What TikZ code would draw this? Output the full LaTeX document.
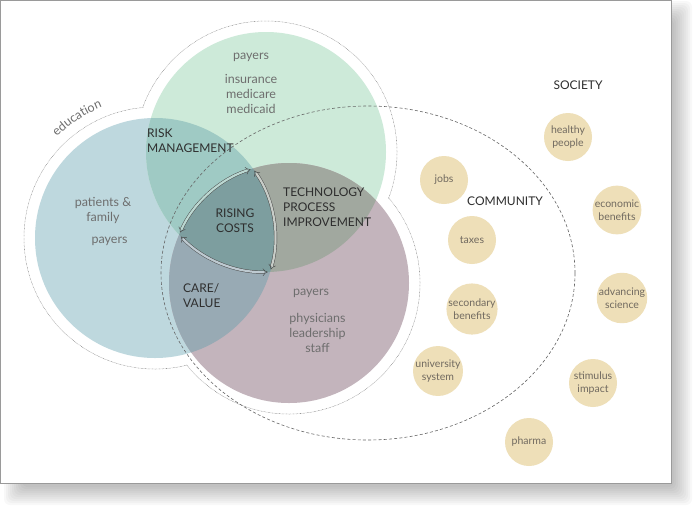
\documentclass[tikz,border=0pt]{standalone}
\usepackage{fontspec}
\setmainfont{Lato}
\usetikzlibrary{arrows.meta,decorations.text}

\definecolor{cardline}{HTML}{9A9A9A}
\definecolor{cblue}{HTML}{BED8DE}
\definecolor{cgreen}{HTML}{CDEAD9}
\definecolor{cmauve}{HTML}{C3B4BC}
\definecolor{cbg}{HTML}{9FCAC4}
\definecolor{cgm}{HTML}{A1A89F}
\definecolor{cbm}{HTML}{98AAB4}
\definecolor{cbgm}{HTML}{7D9E9F}
\definecolor{ctan}{HTML}{EEDFB8}
\definecolor{txtlight}{HTML}{6E6E6E}
\definecolor{txtdark}{HTML}{2E2E2E}
\definecolor{txttan}{HTML}{716A60}
\definecolor{innerA}{HTML}{BBD8D2}
\definecolor{innerB}{HTML}{C8CDC8}
\definecolor{innerC}{HTML}{BECAD1}

\begin{document}
\begin{tikzpicture}[x=1pt,y=1pt,
  bigtext/.style={text=txtlight, font=\fontsize{12.5}{15}\selectfont, align=center, inner sep=0pt},
  captext/.style={text=txtdark, font=\fontsize{12}{15}\selectfont, align=left, inner sep=0pt},
  bubble/.style={circle, fill=ctan, minimum size=48pt, inner sep=0pt, text=txttan,
    font=\fontsize{10.5}{12.5}\selectfont, align=center},
  halo/.style={draw=black!50, line width=0.5pt, dash pattern=on 0.6pt off 0.8pt},
  ring/.style={draw=black!60, line width=0.6pt, dash pattern=on 3pt off 2.2pt},
  cyc/.style={draw=black!72, line width=0.45pt, double distance=2.2pt,
    {Implies}-{Implies}, shorten <=2.5pt, shorten >=2.5pt}
]
\useasboundingbox (0,0) rectangle (694,-507);

% soft drop shadow behind the card
\foreach \i in {0,...,9}
  \fill[black, opacity=0.028, rounded corners=6pt]
    ({4+2*\i},{-(1+2*\i)}) rectangle ({692-2*\i},{-(505-2*\i)});

% the card
\fill[white] (0,0) rectangle (671,-483);
\draw[cardline, line width=1pt] (0.5,-0.5) rectangle (671,-483);

% circle centres
\coordinate (cB) at (155,-238);
\coordinate (cG) at (266,-152);
\coordinate (cM) at (289,-283);
\coordinate (cC) at (368,-273);

% dotted halo around the union of the three circles
\draw[halo] (cB) circle[radius=131];
\draw[halo] (cG) circle[radius=131];
\draw[halo] (cM) circle[radius=131];
\fill[white] (cB) circle[radius=130.4];
\fill[white] (cG) circle[radius=130.4];
\fill[white] (cM) circle[radius=130.4];

% the three circles and their overlaps
\fill[cblue] (cB) circle[radius=120];
\fill[cgreen] (cG) circle[radius=120];
\fill[cmauve] (cM) circle[radius=120];
\begin{scope}
  \clip (cB) circle[radius=120];
  \fill[cbg] (cG) circle[radius=120];
\end{scope}
\begin{scope}
  \clip (cG) circle[radius=120];
  \fill[cgm] (cM) circle[radius=120];
\end{scope}
\begin{scope}
  \clip (cB) circle[radius=120];
  \fill[cbm] (cM) circle[radius=120];
\end{scope}
\begin{scope}
  \clip (cB) circle[radius=120];
  \clip (cG) circle[radius=120];
  \fill[cbgm] (cM) circle[radius=120];
\end{scope}

% community boundary
\draw[ring] (cC) ellipse[x radius=207, y radius=167];

% cycle of double arrows round the central region
\draw[cyc, double=innerA] ([shift={(107.5:120)}]cM) arc[start angle=107.5, end angle=156.3, radius=120];
\draw[cyc, double=innerB] ([shift={(35.3:120)}]cB) arc[start angle=35.3, end angle=-16.4, radius=120];
\draw[cyc, double=innerC] ([shift={(223.6:120)}]cG) arc[start angle=223.6, end angle=272.0, radius=120];

% "education" set along the halo
\path[decorate, decoration={text along path, text align=center,
    text={|\fontsize{12.5}{15}\selectfont\color{txtlight}|education}}]
  ([shift={(138:141)}]cB) arc[start angle=138, end angle=108, radius=141];

% labels inside the circles
\node[bigtext] (gpay) at (251,-57) {payers};
\node[bigtext] (gins) at (251,-94) {insurance\\medicare\\medicaid};
\node[bigtext] (bpat) at (103,-210) {patients \&\\family};
\node[bigtext] (bpay) at (109.5,-241) {payers};
\node[bigtext] (mpay) at (311,-293) {payers};
\node[bigtext] (mphy) at (317.5,-333) {physicians\\leadership\\staff};

\node[captext, anchor=west] (risk) at (147,-140.5) {RISK\\MANAGEMENT};
\node[captext, align=center] (cost) at (235,-220.5) {RISING\\COSTS};
\node[captext, anchor=west] (tech) at (283,-207) {TECHNOLOGY\\PROCESS\\IMPROVEMENT};
\node[captext, anchor=west] (care) at (183,-295.5) {CARE/\\VALUE};

% community and society
\node[captext] (comm) at (505,-201) {COMMUNITY};
\node[captext] (soc) at (578,-85) {SOCIETY};

\node[bubble] (jobs) at (444,-180) {jobs};
\node[bubble] (taxes) at (472,-240) {taxes};
\node[bubble] (second) at (472,-309) {secondary\\benefits};
\node[bubble] (univ) at (438,-371) {university\\system};
\node[bubble] (health) at (568,-137) {healthy\\people};
\node[bubble] (econ) at (617,-210) {economic\\benefits};
\node[bubble] (adv) at (622,-298) {advancing\\science};
\node[bubble] (stim) at (593,-383) {stimulus\\impact};
\node[bubble] (pharma) at (529,-442) {pharma};
\end{tikzpicture}
\end{document}
